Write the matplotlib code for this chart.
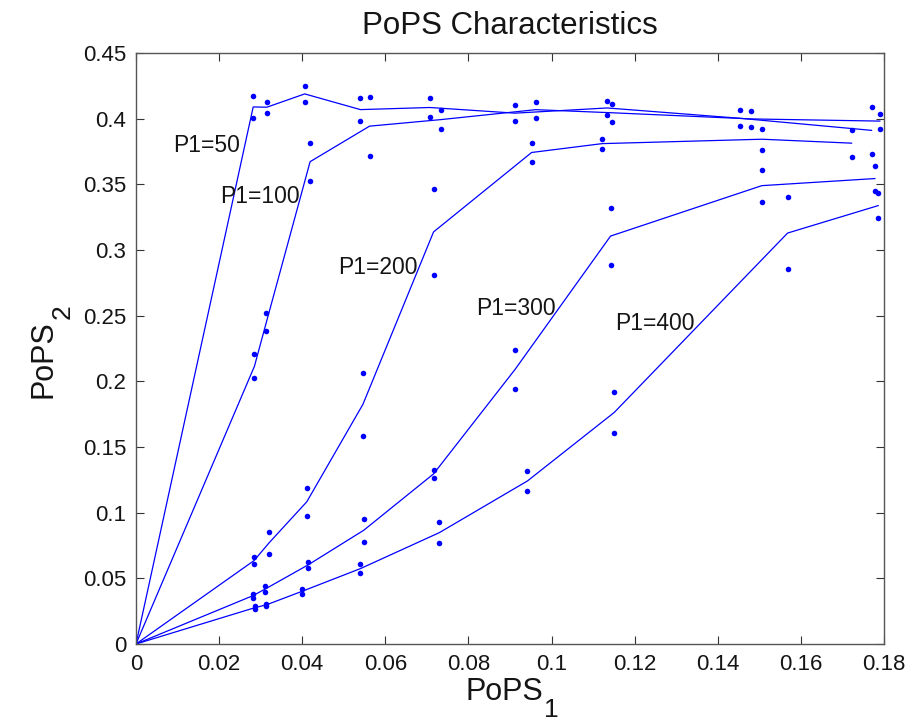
import matplotlib.pyplot as plt
import numpy as np

plt.rcParams['font.family'] = ['Liberation Sans', 'DejaVu Sans']

# two measured points per x position for every P1 setting
x_p50 = [0.0282, 0.0315, 0.0406, 0.054, 0.0707, 0.0912, 0.1134, 0.1453, 0.177]
a_p50 = [0.4173, 0.413, 0.425, 0.4158, 0.4158, 0.4104, 0.4135, 0.4063, 0.4089]
b_p50 = [0.4005, 0.4045, 0.4127, 0.398, 0.4012, 0.398, 0.4028, 0.3943, 0.3733]

x_p100 = [0.0285, 0.0314, 0.0419, 0.0562, 0.0734, 0.0962, 0.1145, 0.1481, 0.179]
a_p100 = [0.2205, 0.2521, 0.3818, 0.4168, 0.4063, 0.413, 0.4114, 0.4058, 0.4038]
b_p100 = [0.2024, 0.2386, 0.3527, 0.3718, 0.3923, 0.4007, 0.3976, 0.3938, 0.3925]

x_p200 = [0.0284, 0.032, 0.0411, 0.0546, 0.0716, 0.0952, 0.1122, 0.1506, 0.1722]
a_p200 = [0.0663, 0.0855, 0.1191, 0.2067, 0.3463, 0.3815, 0.3848, 0.3925, 0.3917]
b_p200 = [0.0607, 0.0684, 0.0975, 0.1582, 0.2812, 0.367, 0.3772, 0.3762, 0.371]

x_p300 = [0.0281, 0.031, 0.0414, 0.0548, 0.0716, 0.0912, 0.1142, 0.1506, 0.1778]
a_p300 = [0.0383, 0.0441, 0.0625, 0.0954, 0.1327, 0.224, 0.3323, 0.3611, 0.3642]
b_p300 = [0.0352, 0.0393, 0.0579, 0.0778, 0.1263, 0.194, 0.2889, 0.3369, 0.3446]

x_p400 = [0.0286, 0.0314, 0.0399, 0.054, 0.073, 0.0942, 0.1151, 0.1568, 0.1786]
a_p400 = [0.0288, 0.0306, 0.0418, 0.0607, 0.0926, 0.1319, 0.1919, 0.340, 0.3435]
b_p400 = [0.0265, 0.0291, 0.0383, 0.0541, 0.077, 0.1164, 0.1608, 0.2858, 0.3241]

labels = ['P1=50', 'P1=100', 'P1=200', 'P1=300', 'P1=400']
label_x = [0.0089, 0.0203, 0.0486, 0.0818, 0.1152]
label_y = [0.3794, 0.3407, 0.2864, 0.2557, 0.2437]

series = [(x_p50, a_p50, b_p50), (x_p100, a_p100, b_p100), (x_p200, a_p200, b_p200),
          (x_p300, a_p300, b_p300), (x_p400, a_p400, b_p400)]

fig = plt.figure(figsize=(9.2, 7.26), dpi=100)
ax = fig.add_axes([136 / 920, 1 - 644 / 726, 748 / 920, 591 / 726])

for xs, ya, yb in series:
    xs = np.array(xs)
    ya = np.array(ya)
    yb = np.array(yb)
    # line goes through the mean of each pair, starting at the origin
    mean = (ya + yb) / 2
    ax.plot(np.r_[0, xs], np.r_[0, mean], color='#0000ff', lw=0.9)
    ax.plot(np.r_[xs, xs], np.r_[ya, yb], 'o', color='#0000ff', ms=4, mew=0,
            clip_on=False)

for txt, tx, ty in zip(labels, label_x, label_y):
    ax.text(tx, ty, txt, fontsize=16.5, ha='left', va='center', color='#151515')

ax.set_xlim(0, 0.18)
ax.set_ylim(0, 0.45)
ax.set_xticks(np.arange(0, 0.181, 0.02))
ax.set_yticks(np.arange(0, 0.451, 0.05))
ax.set_xticklabels(['0', '0.02', '0.04', '0.06', '0.08', '0.1', '0.12', '0.14', '0.16', '0.18'])
ax.set_yticklabels(['0', '0.05', '0.1', '0.15', '0.2', '0.25', '0.3', '0.35', '0.4', '0.45'])
ax.tick_params(direction='in', length=6, width=0.8, top=True, right=True,
               labelsize=16, colors='#333333', labelcolor='#151515', pad=7)
for s in ax.spines.values():
    s.set_color('#555555')
    s.set_linewidth(1.0)

ax.set_title('PoPS Characteristics', fontsize=22.5, pad=14, color='#151515')

# axis labels with a large, MATLAB-like subscript
ax.set_xlabel('PoPS', fontsize=22, color='#151515')
ax.xaxis.set_label_coords(0.492, -0.0558)
ax.set_ylabel('PoPS', fontsize=22, color='#151515')
ax.yaxis.set_label_coords(-0.1037, 0.482)

ax.annotate('1', xy=(1, 0), xycoords=ax.xaxis.label, xytext=(0.5, -7.5),
            textcoords='offset points', fontsize=19, ha='left', va='baseline',
            color='#151515')
ax.annotate('2', xy=(1, 1), xycoords=ax.yaxis.label, xytext=(12, 1),
            textcoords='offset points', fontsize=19, ha='right', va='bottom',
            rotation=90, color='#151515')

fig.savefig('out.png', dpi=100)
